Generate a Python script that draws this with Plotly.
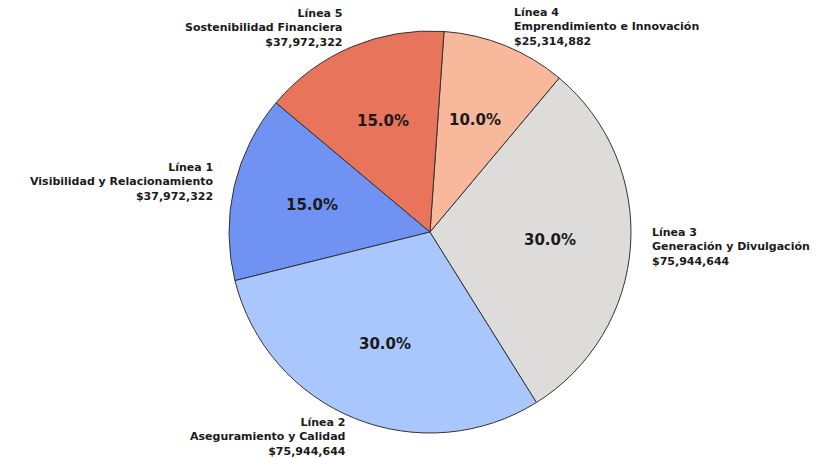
import math
import plotly.graph_objects as go

lineas = ["Línea 1", "Línea 2", "Línea 3", "Línea 4", "Línea 5"]
nombres = ["Visibilidad y Relacionamiento", "Aseguramiento y Calidad",
           "Generación y Divulgación", "Emprendimiento e Innovación",
           "Sostenibilidad Financiera"]
montos = [37972322, 75944644, 75944644, 25314882, 37972322]
colores = ["#7093f3", "#aac7fd", "#dddcdb", "#f7b89c", "#e7745b"]

W, H = 822, 458
M = dict(l=0, r=0, t=31, b=25)
dom = dict(x=[0.2, 0.8462], y=[0, 1])
START = 140  # degrees, counterclockwise start of first slice

fig = go.Figure()
fig.add_trace(go.Pie(
    labels=lineas, values=montos, sort=False, direction="counterclockwise",
    rotation=90 - START - 360 * montos[0] / sum(montos), domain=dom,
    marker=dict(colors=colores, line=dict(color="#333333", width=1)),
    textinfo="none", showlegend=False, hoverinfo="label+value+percent",
))

# label placement (pie centre / radius in paper units from layout)
pw, ph = W - M["l"] - M["r"], H - M["t"] - M["b"]
cx = (dom["x"][0] + dom["x"][1]) / 2
cy = (dom["y"][0] + dom["y"][1]) / 2
r_px = min(pw * (dom["x"][1] - dom["x"][0]), ph * (dom["y"][1] - dom["y"][0])) / 2
total = sum(montos)
acc = 0
for lin, nom, m in zip(lineas, nombres, montos):
    frac = m / total
    mid = math.radians(START + 360 * (acc + frac / 2))
    acc += frac
    dx, dy = math.cos(mid), math.sin(mid)
    fig.add_annotation(
        xref="paper", yref="paper",
        x=cx + 0.6 * r_px * dx / pw, y=cy + 0.6 * r_px * dy / ph,
        text=f"<b>{frac * 100:.1f}%</b>", showarrow=False,
        xanchor="center", yanchor="middle",
        font=dict(family="DejaVu Sans", size=15, color="#1a1a1a"),
    )
    fig.add_annotation(
        xref="paper", yref="paper",
        x=cx + 1.1 * r_px * dx / pw, y=cy + 1.1 * r_px * dy / ph,
        text=f"<b>{lin}<br>{nom}<br>${m:,}</b>", showarrow=False,
        xanchor="left" if dx > 0 else "right", yanchor="middle",
        align="left" if dx > 0 else "right",
        borderpad=0,
        font=dict(family="DejaVu Sans", size=11, color="#1a1a1a"),
    )

fig.update_layout(
    width=W, height=H, margin=M,
    paper_bgcolor="white", plot_bgcolor="white",
)
fig.write_html("out.html",
               config={"displayModeBar": False},
               post_script="document.body.style.margin='0';")
